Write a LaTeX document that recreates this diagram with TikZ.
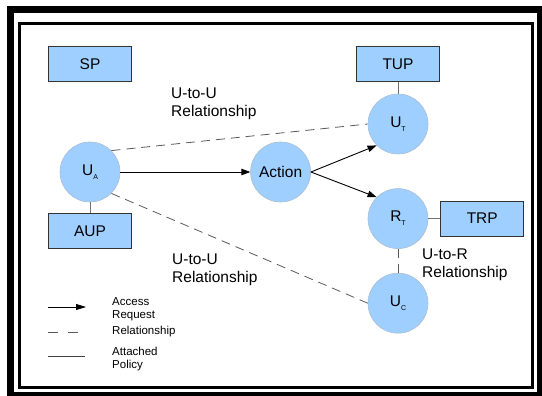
\documentclass[tikz,border=0pt]{standalone}
\usepackage{fontspec}
\setmainfont{Liberation Sans}
\usetikzlibrary{arrows.meta, positioning}
\definecolor{nodeblue}{RGB}{159,207,255}
\definecolor{rimgray}{RGB}{170,190,212}
\newcommand{\lowidx}[1]{\raisebox{-4pt}{\fontsize{7}{8}\selectfont #1}}
\tikzset{
  usernode/.style={circle, fill=nodeblue, draw=rimgray, line width=0.6pt,
                   minimum size=60pt, inner sep=0pt, font=\fontsize{15.5}{18}\selectfont},
  policybox/.style={rectangle, fill=nodeblue, draw=black!80, line width=0.9pt,
                    minimum width=83pt, minimum height=35pt, inner sep=0pt,
                    font=\fontsize{15.5}{18}\selectfont},
  rellabel/.style={align=left, inner sep=0pt, anchor=west, font=\fontsize{15.5}{18}\selectfont},
  keylabel/.style={align=left, inner sep=0pt, anchor=west, font=\fontsize{11.5}{13}\selectfont},
}

\begin{document}
\begin{tikzpicture}[
  x=1pt, y=-1pt,
  request/.style={-{Triangle[length=9pt,width=6.5pt]}, line width=0.9pt},
  relation/.style={draw=black!65, line width=0.8pt, dash pattern=on 9pt off 6pt},
  attached/.style={draw=black!55, line width=0.8pt}
]
  \useasboundingbox (0,0) rectangle (542,396);
  \clip (0,0) rectangle (542,396);

  % double frame
  \draw[line width=7pt] (10.5,9.5) rectangle (540.5,395.5);
  \draw[line width=3pt] (19.5,23.5) rectangle (532.5,387.5);

  % users, action and resource
  \node (ua) [usernode] at (90,172) {U\lowidx{A}};
  \node (act) [usernode, right=130pt of ua] {Action};
  \node (ut) [usernode] at (398,124) {U\lowidx{T}};
  \node (rt) [usernode, below=34pt of ut] {R\lowidx{T}};
  \node (uc) [usernode, below=24pt of rt] {U\lowidx{C}};

  % policies
  \node (sp) [policybox] at (90,64) {SP};
  \node (aup) [policybox, below=11pt of ua] {AUP};
  \node (tup) [policybox, above=12pt of ut] {TUP};
  \node (trp) [policybox, right=12pt of rt] {TRP};

  \node (uu1) [rellabel] at (171,104) {U-to-U\\Relationship};
  \node (uu2) [rellabel] at (172,270) {U-to-U\\Relationship};
  \node (ur) [rellabel] at (422,265) {U-to-R\\Relationship};

  \draw[request] (ua) -- (act);
  \draw[request] (act.east) -- (ut.225);
  \draw[request] (act.east) -- (rt.135);

  \draw[relation] (ua.45) -- (ut.west);
  \draw[relation] (ua.-45) -- (uc.west);
  \draw[relation] (rt.south) -- (uc.north);

  \draw[attached] (ua) -- (aup);
  \draw[attached] (tup) -- (ut);
  \draw[attached] (rt) -- (trp);

  % legend
  \coordinate (k1a) at (48,307);
  \coordinate (k1b) at (86,307);
  \coordinate (k2a) at (48,332);
  \coordinate (k2b) at (78,332);
  \coordinate (k3a) at (48,356);
  \coordinate (k3b) at (85,356);
  \draw[request, line width=0.8pt, -{Triangle[length=10pt,width=6pt]}] (k1a) -- (k1b);
  \draw[relation, dash pattern=on 10pt off 10pt] (k2a) -- (k2b);
  \draw[attached, draw=black!75] (k3a) -- (k3b);
  \node (key1) [keylabel] at (112,309) {Access\\Request};
  \node (key2) [keylabel] at (112,332) {Relationship};
  \node (key3) [keylabel] at (112,359) {Attached\\Policy};
\end{tikzpicture}
\end{document}
